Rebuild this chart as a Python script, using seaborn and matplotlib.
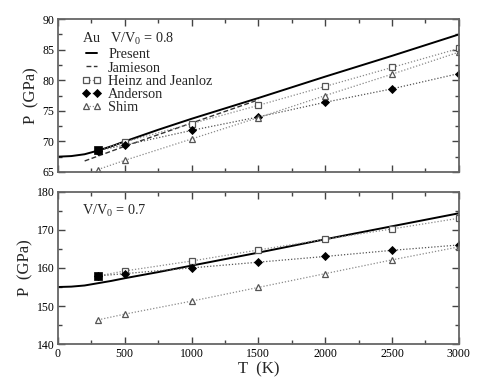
import matplotlib
matplotlib.use("Agg")
import matplotlib.pyplot as plt
import seaborn as sns
import numpy as np
from matplotlib.ticker import MultipleLocator

# ---- data ----
T_present = [0, 100, 200, 300, 400, 500, 750, 1000, 1500, 2000, 2500, 3000]
P_present_08 = [67.5, 67.6, 67.9, 68.5, 69.2, 70.0, 71.9, 73.7, 77.1, 80.6, 84.0, 87.5]
P_present_07 = [155.0, 155.1, 155.4, 156.0, 156.6, 157.3, 158.9, 160.6, 164.0, 167.5, 170.9, 174.3]

T_jam = [200, 500, 1000, 1500]
P_jam_08 = [66.8, 69.2, 73.0, 76.8]

T_exp = [300, 500, 1000, 1500, 2000, 2500, 3000]
P_heinz_08 = [68.6, 69.9, 72.9, 75.9, 79.0, 82.1, 85.2]
P_anderson_08 = [68.5, 69.4, 71.8, 74.0, 76.4, 78.6, 81.1]
P_shim_08 = [65.4, 66.9, 70.4, 73.9, 77.5, 81.0, 84.6]

P_heinz_07 = [157.9, 159.2, 161.8, 164.7, 167.5, 170.2, 173.0]
P_anderson_07 = [157.9, 158.5, 160.0, 161.5, 163.0, 164.6, 166.0]
P_shim_07 = [146.4, 147.9, 151.3, 154.9, 158.5, 162.1, 165.5]

T_ref = [300]
P_ref_08 = [68.6]
P_ref_07 = [157.9]

sns.set_style("ticks")
plt.rcParams['font.family'] = ['Liberation Serif', 'DejaVu Serif']
plt.rcParams['mathtext.fontset'] = 'custom'
plt.rcParams['mathtext.rm'] = 'Liberation Serif'
plt.rcParams['mathtext.it'] = 'Liberation Serif'

fig = plt.figure(figsize=(4.95, 3.83), dpi=100)
ax1 = fig.add_axes([0.117, 0.551, 0.810, 0.399])
ax2 = fig.add_axes([0.117, 0.101, 0.810, 0.399])

grey = '#8a8a8a'
dot = (0, (1, 1.5))

def draw(ax, Pp, Ph, Pa, Ps, Pr, Pj=None, legend=False):
    sns.lineplot(x=T_present, y=Pp, ax=ax, color='black', linewidth=1.4,
                 label='Present' if legend else None, legend=False)
    if Pj is not None:
        sns.lineplot(x=T_jam, y=Pj, ax=ax, color='#333333', linewidth=1.0,
                     linestyle=(0, (3.5, 1.8)), label='Jamieson' if legend else None, legend=False)
    sns.lineplot(x=T_exp, y=Ph, ax=ax, color=grey, linewidth=0.9, linestyle=dot,
                 marker='s', markersize=4.5, markerfacecolor='white',
                 markeredgecolor='#555555', markeredgewidth=0.9,
                 label='Heinz and Jeanloz' if legend else None, legend=False)
    sns.lineplot(x=T_exp, y=Pa, ax=ax, color='#555555', linewidth=0.9, linestyle=dot,
                 marker='D', markersize=4.2, markerfacecolor='black',
                 markeredgecolor='black', markeredgewidth=0.6,
                 label='Anderson' if legend else None, legend=False)
    sns.lineplot(x=T_exp, y=Ps, ax=ax, color=grey, linewidth=0.9, linestyle=dot,
                 marker='^', markersize=4.5, markerfacecolor='white',
                 markeredgecolor='#555555', markeredgewidth=0.9,
                 label='Shim' if legend else None, legend=False)
    sns.scatterplot(x=T_ref, y=Pr, ax=ax, marker='s', s=38, color='black',
                    edgecolor='black', legend=False, zorder=5)

draw(ax1, P_present_08, P_heinz_08, P_anderson_08, P_shim_08, P_ref_08, P_jam_08, legend=True)
draw(ax2, P_present_07, P_heinz_07, P_anderson_07, P_shim_07, P_ref_07)

for ax in (ax1, ax2):
    ax.set_xlim(0, 3000)
    ax.xaxis.set_major_locator(MultipleLocator(500))
    ax.xaxis.set_minor_locator(MultipleLocator(250))
    ax.tick_params(which='both', direction='in', top=True, right=True, colors='#444444',
                   labelcolor='black', labelsize=8.5, width=1.0, pad=2.5)
    ax.tick_params(which='major', length=5)
    ax.tick_params(which='minor', length=3)
    for s in ax.spines.values():
        s.set_color('#666666')
        s.set_linewidth(1.3)
    ax.set_ylabel('P  (GPa)', fontsize=12, labelpad=2)

ax1.set_ylim(65, 90)
ax1.yaxis.set_major_locator(MultipleLocator(5))
ax1.yaxis.set_minor_locator(MultipleLocator(2.5))
ax1.tick_params(labelbottom=False)
ax1.set_xlabel('')

ax2.set_ylim(140, 180)
ax2.yaxis.set_major_locator(MultipleLocator(10))
ax2.yaxis.set_minor_locator(MultipleLocator(5))
ax2.set_xlabel('T  (K)', fontsize=12, labelpad=1)

leg = ax1.legend(loc='upper left', frameon=False, numpoints=2, handlelength=1.35,
                 handletextpad=0.5, labelspacing=0.0, borderaxespad=0.0,
                 fontsize=10.3, title='Au   V/V$_0$ = 0.8', title_fontsize=10.3,
                 bbox_to_anchor=(0.045, 0.96))
leg._legend_box.align = 'left'
leg._legend_box.sep = 1

ax2.text(0.06, 0.87, 'V/V$_0$ = 0.7', transform=ax2.transAxes, fontsize=10.3,
         ha='left', va='center')

fig.savefig('out.png', dpi=100)
